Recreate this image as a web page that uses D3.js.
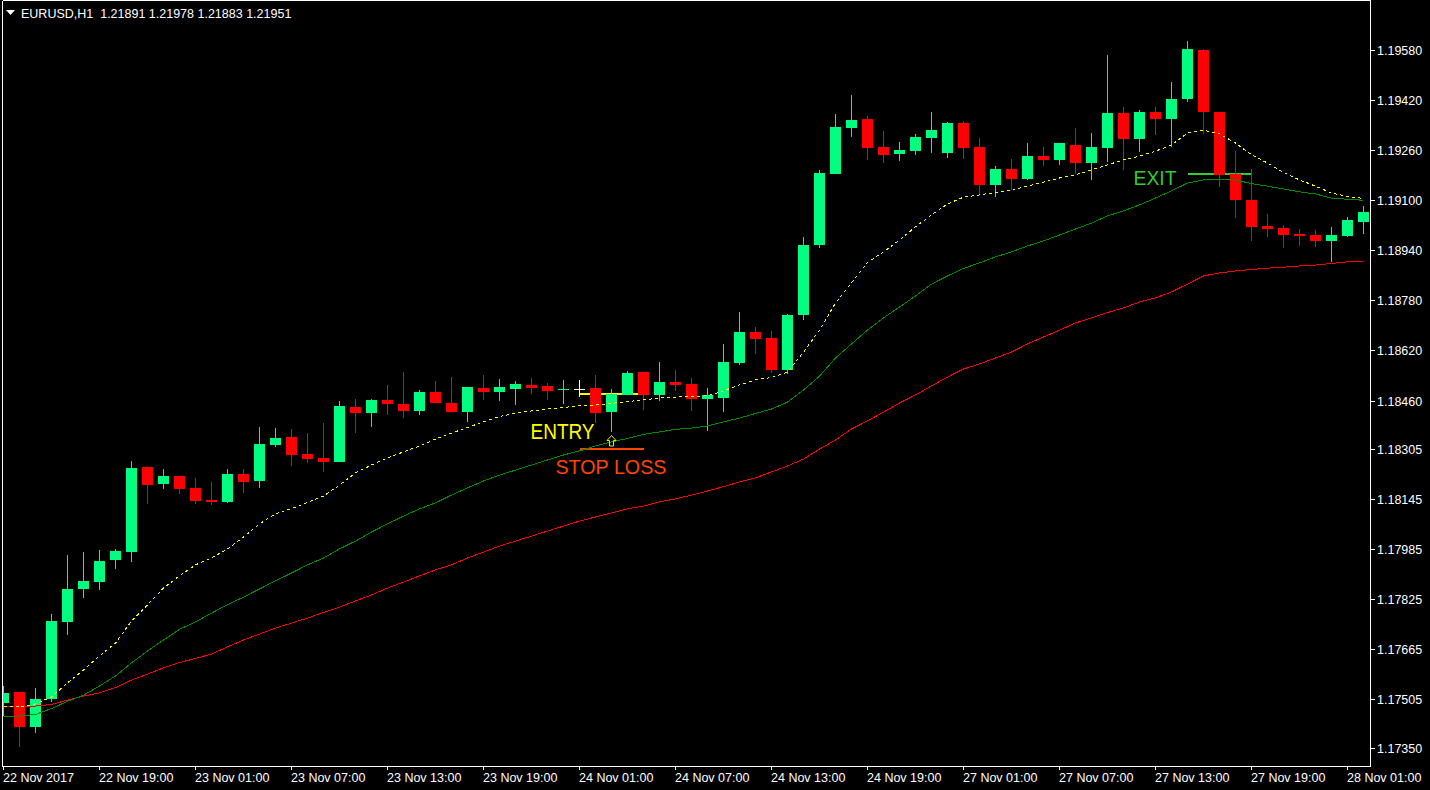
<!DOCTYPE html>
<html><head><meta charset="utf-8">
<script src="https://cdn.jsdelivr.net/npm/d3@7"></script>
<style>html,body{margin:0;padding:0;background:#000;overflow:hidden}svg{display:block}</style>
</head><body><svg id="c" width="1430" height="790"></svg>
<script>
// ---------- data ----------
const symbolTitle = "EURUSD,H1";
const quote = ["1.21891", "1.21978", "1.21883", "1.21951"];

const opens = [1.17494,1.17529,1.17418,1.17508,1.17754,1.17859,1.17881,1.17952,1.17977,1.18248,
 1.18194,1.18219,1.18181,1.18142,1.18136,1.18225,1.18204,1.18319,1.18344,1.18289,
 1.18277,1.18265,1.18439,1.18421,1.18462,1.18449,1.18427,1.18487,1.18452,1.18423,
 1.18500,1.18487,1.18497,1.18510,1.18507,1.18496,1.18496,1.18500,1.18424,1.18478,
 1.18551,1.18478,1.18519,1.18513,1.18465,1.18468,1.18580,1.18679,1.18660,1.18558,
 1.18733,1.18957,1.19184,1.19331,1.19360,1.19270,1.19248,1.19257,1.19299,1.19251,
 1.19347,1.19270,1.19149,1.19200,1.19168,1.19241,1.19229,1.19276,1.19219,1.19267,
 1.19379,1.19296,1.19382,1.19360,1.19423,1.19580,1.19382,1.19184,1.19101,1.19018,
 1.19011,1.18992,1.18989,1.18970,1.18986,1.19030];
const highs = [1.17548,1.17529,1.17542,1.17778,1.17966,1.17976,1.17983,1.17986,1.18267,1.18248,
 1.18241,1.18219,1.18213,1.18200,1.18241,1.18241,1.18376,1.18372,1.18368,1.18356,
 1.18388,1.18459,1.18465,1.18466,1.18510,1.18551,1.18494,1.18523,1.18535,1.18503,
 1.18542,1.18529,1.18523,1.18532,1.18516,1.18526,1.18526,1.18543,1.18497,1.18554,
 1.18551,1.18583,1.18558,1.18532,1.18500,1.18641,1.18743,1.18695,1.18682,1.18737,
 1.18983,1.19197,1.19376,1.19436,1.19369,1.19321,1.19286,1.19312,1.19382,1.19350,
 1.19353,1.19299,1.19209,1.19232,1.19283,1.19270,1.19283,1.19331,1.19315,1.19564,
 1.19398,1.19388,1.19398,1.19478,1.19609,1.19583,1.19382,1.19257,1.19200,1.19056,
 1.19021,1.19008,1.19005,1.19015,1.19046,1.19082];
const lows = [1.17452,1.17354,1.17399,1.17498,1.17712,1.17830,1.17856,1.17923,1.17945,1.18130,
 1.18177,1.18162,1.18130,1.18127,1.18134,1.18166,1.18182,1.18312,1.18251,1.18261,
 1.18232,1.18265,1.18356,1.18376,1.18415,1.18405,1.18414,1.18452,1.18423,1.18392,
 1.18462,1.18459,1.18446,1.18481,1.18462,1.18449,1.18470,1.18387,1.18361,1.18478,
 1.18430,1.18459,1.18490,1.18427,1.18363,1.18423,1.18574,1.18609,1.18548,1.18545,
 1.18717,1.18947,1.19184,1.19302,1.19229,1.19219,1.19225,1.19245,1.19251,1.19235,
 1.19232,1.19120,1.19110,1.19133,1.19165,1.19209,1.19213,1.19184,1.19165,1.19222,
 1.19197,1.19254,1.19308,1.19270,1.19414,1.19312,1.19142,1.19043,1.18970,1.18983,
 1.18947,1.18954,1.18951,1.18903,1.18983,1.18992];
const closes = [1.17527,1.17418,1.17507,1.17756,1.17858,1.17884,1.17947,1.17979,1.18245,1.18191,
 1.18219,1.18178,1.18139,1.18137,1.18225,1.18201,1.18321,1.18340,1.18287,1.18273,
 1.18265,1.18443,1.18420,1.18462,1.18450,1.18427,1.18487,1.18452,1.18423,1.18503,
 1.18487,1.18503,1.18513,1.18500,1.18491,1.18496,1.18496,1.18420,1.18481,1.18548,
 1.18478,1.18519,1.18510,1.18465,1.18478,1.18583,1.18679,1.18657,1.18558,1.18733,
 1.18957,1.19187,1.19334,1.19356,1.19267,1.19245,1.19261,1.19302,1.19324,1.19347,
 1.19267,1.19149,1.19200,1.19168,1.19241,1.19229,1.19283,1.19219,1.19270,1.19379,
 1.19296,1.19382,1.19360,1.19423,1.19583,1.19382,1.19181,1.19101,1.19015,1.19008,
 1.18989,1.18986,1.18970,1.18989,1.19037,1.19062];

// moving averages (yellow dotted, green, red)
const maFast = [1.17481,1.17481,1.17491,1.17513,1.17558,1.17599,1.17644,1.17685,1.17756,1.17807,
 1.17861,1.17900,1.17935,1.17957,1.17986,1.18024,1.18066,1.18098,1.18115,1.18134,
 1.18155,1.18190,1.18229,1.18254,1.18277,1.18296,1.18315,1.18337,1.18356,1.18374,
 1.18392,1.18409,1.18419,1.18427,1.18433,1.18438,1.18443,1.18446,1.18451,1.18457,
 1.18462,1.18468,1.18471,1.18473,1.18475,1.18491,1.18510,1.18526,1.18534,1.18551,
 1.18615,1.18685,1.18772,1.18836,1.18901,1.18935,1.18973,1.19015,1.19053,1.19088,
 1.19110,1.19117,1.19125,1.19133,1.19145,1.19158,1.19171,1.19181,1.19197,1.19213,
 1.19229,1.19241,1.19257,1.19276,1.19315,1.19324,1.19312,1.19283,1.19245,1.19219,
 1.19189,1.19165,1.19145,1.19123,1.19112,1.19106];
const maMid = [1.17452,1.17452,1.17457,1.17476,1.17499,1.17519,1.17548,1.17580,1.17622,1.17660,
 1.17695,1.17729,1.17753,1.17781,1.17808,1.17832,1.17858,1.17884,1.17909,1.17935,
 1.17957,1.17986,1.18011,1.18040,1.18066,1.18091,1.18114,1.18133,1.18158,1.18181,
 1.18203,1.18222,1.18238,1.18254,1.18270,1.18286,1.18299,1.18315,1.18328,1.18339,
 1.18352,1.18360,1.18368,1.18372,1.18379,1.18392,1.18404,1.18419,1.18433,1.18455,
 1.18494,1.18538,1.18596,1.18641,1.18685,1.18724,1.18759,1.18794,1.18832,1.18858,
 1.18882,1.18900,1.18919,1.18935,1.18954,1.18970,1.18989,1.19008,1.19027,1.19050,
 1.19066,1.19085,1.19107,1.19130,1.19155,1.19165,1.19167,1.19165,1.19153,1.19145,
 1.19136,1.19127,1.19120,1.19107,1.19103,1.19100];
const maSlow = [1.17484,1.17484,1.17484,1.17489,1.17503,1.17516,1.17526,1.17543,1.17567,1.17586,
 1.17606,1.17623,1.17636,1.17650,1.17673,1.17695,1.17714,1.17733,1.17749,1.17765,
 1.17783,1.17800,1.17820,1.17839,1.17861,1.17880,1.17900,1.17919,1.17935,1.17957,
 1.17976,1.17995,1.18011,1.18027,1.18043,1.18059,1.18075,1.18088,1.18101,1.18114,
 1.18123,1.18136,1.18146,1.18158,1.18171,1.18185,1.18200,1.18213,1.18232,1.18251,
 1.18273,1.18305,1.18334,1.18369,1.18395,1.18423,1.18452,1.18478,1.18507,1.18535,
 1.18561,1.18577,1.18596,1.18615,1.18641,1.18663,1.18685,1.18708,1.18724,1.18741,
 1.18756,1.18775,1.18788,1.18807,1.18832,1.18858,1.18868,1.18874,1.18879,1.18883,
 1.18886,1.18890,1.18893,1.18898,1.18903,1.18906];

const yTickValues = [1.19580,1.19420,1.19260,1.19100,1.18940,1.18780,1.18620,1.18460,
 1.18305,1.18145,1.17985,1.17825,1.17665,1.17505,1.17350];
const yTickLabels = ["1.19580","1.19420","1.19260","1.19100","1.18940","1.18780","1.18620","1.18460",
 "1.18305","1.18145","1.17985","1.17825","1.17665","1.17505","1.17350"];
const xTickBars = [0,6,12,18,24,30,36,42,48,54,60,66,72,78,84];
const xTickLabels = ["22 Nov 2017","22 Nov 19:00","23 Nov 01:00","23 Nov 07:00","23 Nov 13:00",
 "23 Nov 19:00","24 Nov 01:00","24 Nov 07:00","24 Nov 13:00","24 Nov 19:00",
 "27 Nov 01:00","27 Nov 07:00","27 Nov 13:00","27 Nov 19:00","28 Nov 01:00"];
const crossBars = [36];   // bar drawn as white cross

// trade levels: [label, price, fromBar, toBar]
const levelNames  = ["ENTRY", "STOP LOSS", "EXIT"];
const levelPrices = [1.18481, 1.18306, 1.19184];
const levelFrom   = [36, 36, 74];
const levelTo     = [40, 40, 78];
const labelBars   = [32.97, 34.53, 70.66];
const labelPrices = [1.18337, 1.18225, 1.19149];
const arrowBar = 38, arrowPrice = 1.18350;

// ---------- drawing ----------
const svg = d3.select("#c");
const W = 1430, H = 790;
const L = 2.5, T = 0.5, R = 1370.5, B = 766.5;
const FONT = "'Liberation Sans', Arial, Helvetica, sans-serif";
const BULL = "#00FF80", BEAR = "#FF0000";

svg.append("rect").attr("width", W).attr("height", H).attr("fill", "#000");

const x = d3.scaleLinear().domain([0, 85]).range([3.5, 1363.5]);
const y = d3.scaleLinear().domain([1.17350, 1.19580]).range([748, 50]);

svg.append("defs").append("clipPath").attr("id", "plot")
  .append("rect").attr("x", 3).attr("y", 1).attr("width", R - 3.5).attr("height", B - 1.5);

const plot = svg.append("g").attr("clip-path", "url(#plot)").attr("shape-rendering", "crispEdges");

// trade level lines (behind candles)
const levelColors = ["#FFFF00", "#FF4500", "#32CD32"];
levelNames.forEach((n, k) => {
  plot.append("line")
    .attr("x1", x(levelFrom[k])).attr("x2", x(levelTo[k]))
    .attr("y1", Math.round(y(levelPrices[k]))).attr("y2", Math.round(y(levelPrices[k])))
    .attr("stroke", levelColors[k]).attr("stroke-width", 2);
});

// candles
const idx = d3.range(opens.length);
const cg = plot.append("g");
idx.forEach(i => {
  const o = opens[i], h = highs[i], l = lows[i], c = closes[i];
  const white = crossBars.includes(i);
  const col = white ? "#FFFFFF" : (c >= o ? BULL : BEAR);
  const cx = x(i);
  cg.append("line").attr("x1", cx).attr("x2", cx)
    .attr("y1", Math.round(y(h))).attr("y2", Math.round(y(l)))
    .attr("stroke", col).attr("stroke-width", 1);
  const top = Math.round(y(Math.max(o, c)));
  const bot = Math.round(y(Math.min(o, c)));
  cg.append("rect").attr("x", cx - 5.5).attr("y", top)
    .attr("width", 11).attr("height", Math.max(1, bot - top))
    .attr("fill", col);
});

// moving averages
const line = d3.line().x((d, i) => x(i)).y(d => y(d));
plot.append("path").datum(maSlow).attr("d", line).attr("fill", "none").attr("stroke", "#FF0000").attr("stroke-width", 1);
plot.append("path").datum(maMid).attr("d", line).attr("fill", "none").attr("stroke", "#008C00").attr("stroke-width", 1);
plot.append("path").datum(maFast).attr("d", line).attr("fill", "none").attr("stroke", "#FFFF00")
  .attr("stroke-width", 1).attr("stroke-dasharray", "3,3");

// annotations text
const labelSizes = [22, 21, 21];
const labelLens = [64, 111, 43];
levelNames.forEach((n, k) => {
  svg.append("text").attr("x", x(labelBars[k]) - 0.5).attr("y", y(labelPrices[k]))
    .attr("font-family", FONT).attr("font-size", labelSizes[k] + "px")
    .attr("fill", levelColors[k]).attr("textLength", labelLens[k])
    .attr("lengthAdjust", "spacingAndGlyphs").text(n);
});

// arrow
const ax = x(arrowBar), ay = Math.round(y(arrowPrice)) + 0.5;
svg.append("path")
  .attr("d", `M${ax},${ay} L${ax + 4.5},${ay + 5} L${ax + 2},${ay + 5} L${ax + 2},${ay + 10.5} L${ax - 2},${ay + 10.5} L${ax - 2},${ay + 5} L${ax - 4.5},${ay + 5} Z`)
  .attr("fill", "none").attr("stroke", "#E8E800").attr("stroke-width", 1);

// frame
const fr = svg.append("g").attr("stroke", "#FFFFFF").attr("stroke-width", 1).attr("shape-rendering", "crispEdges");
fr.append("line").attr("x1", L).attr("x2", R).attr("y1", T).attr("y2", T);
fr.append("line").attr("x1", L).attr("x2", L).attr("y1", T).attr("y2", B);
fr.append("line").attr("x1", R).attr("x2", R).attr("y1", 0).attr("y2", B);
fr.append("line").attr("x1", L).attr("x2", R).attr("y1", B).attr("y2", B);

// y axis ticks + labels
yTickValues.forEach((v, k) => {
  const yy = Math.round(y(v)) + 0.5;
  fr.append("line").attr("x1", R).attr("x2", R + 4).attr("y1", yy).attr("y2", yy);
  svg.append("text").attr("x", 1377).attr("y", yy).attr("dy", "0.36em")
    .attr("font-family", FONT).attr("font-size", "12.5px").attr("fill", "#FFFFFF")
    .text(yTickLabels[k]);
});

// x axis ticks + labels
xTickBars.forEach((b, k) => {
  const xx = Math.floor(x(b)) + 0.5;
  fr.append("line").attr("x1", xx).attr("x2", xx).attr("y1", B).attr("y2", B + 3);
  svg.append("text").attr("x", xx - 0.5).attr("y", 782)
    .attr("font-family", FONT).attr("font-size", "12.5px").attr("fill", "#FFFFFF")
    .text(xTickLabels[k]);
});

// title
svg.append("path").attr("d", "M6,10 L15,10 L10.5,15 Z").attr("fill", "#FFFFFF");
svg.append("text").attr("x", 21).attr("y", 17.5)
  .attr("font-family", FONT).attr("font-size", "12.5px").attr("fill", "#FFFFFF")
  .attr("xml:space", "preserve").style("white-space", "pre")
  .text(symbolTitle + "  " + quote.join(" "));
</script>
</body></html>
